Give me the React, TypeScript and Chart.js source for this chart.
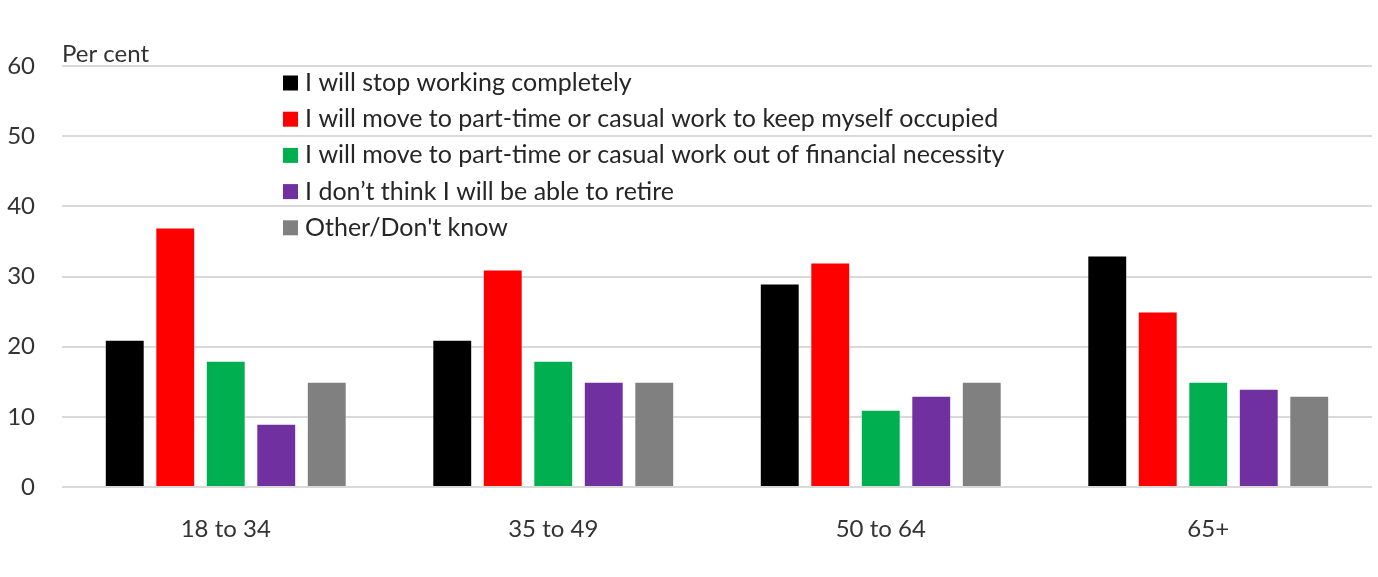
import { useEffect, useRef } from "react"
import { Chart, registerables } from "chart.js"

Chart.register(...registerables)

const ageGroups = ["18 to 34", "35 to 49", "50 to 64", "65+"]

const seriesNames = [
  "I will stop working completely",
  "I will move to part-time or casual work to keep myself occupied",
  "I will move to part-time or casual work out of financial necessity",
  "I don\u2019t think I will be able to retire",
  "Other/Don't know",
]

const stopCompletely = [21, 21, 29, 33]
const partTimeOccupied = [37, 31, 32, 25]
const partTimeNecessity = [18, 18, 11, 15]
const unableToRetire = [9, 15, 13, 14]
const otherDontKnow = [15, 15, 15, 13]

const seriesColors = ["#000000", "#FF0000", "#00B050", "#7030A0", "#808080"]

const FONT = "Lato"
const TEXT = "#333333"

// legend + "Per cent" label drawn on top of the plot
const overlayPlugin = {
  id: "overlay",
  afterDraw(chart: Chart) {
    const ctx = chart.ctx
    const area = chart.chartArea
    ctx.save()
    ctx.fillStyle = TEXT
    ctx.font = `24px ${FONT}`
    ctx.textBaseline = "alphabetic"
    ctx.textAlign = "left"
    ctx.fillText("Per cent", area.left, area.top - 4)

    const x0 = 283
    const y0 = 83
    const step = 36.2
    chart.data.datasets.forEach((ds, i) => {
      const cy = y0 + i * step
      ctx.fillStyle = ds.backgroundColor as string
      ctx.fillRect(x0, cy - 7.5, 15, 15)
      ctx.fillStyle = "#262626"
      ctx.textBaseline = "middle"
      ctx.font = `25px ${FONT}`
      ctx.fillText(ds.label as string, x0 + 22, cy)
    })
    ctx.restore()
  },
}

export default function App() {
  const canvasRef = useRef<HTMLCanvasElement>(null)
  const chartRef = useRef<Chart | null>(null)

  useEffect(() => {
    document.body.style.margin = "0"
    if (!canvasRef.current) return
    if (chartRef.current) chartRef.current.destroy()

    const values = [stopCompletely, partTimeOccupied, partTimeNecessity, unableToRetire, otherDontKnow]

    chartRef.current = new Chart(canvasRef.current, {
      type: "bar",
      data: {
        labels: ageGroups,
        datasets: values.map((data, i) => ({
          label: seriesNames[i],
          data,
          backgroundColor: seriesColors[i],
          borderColor: "rgba(255,255,255,0.35)",
          borderWidth: 1,
          categoryPercentage: 0.771,
          barPercentage: 0.79,
        })),
      },
      options: {
        animation: false,
        responsive: true,
        maintainAspectRatio: false,
        layout: { padding: { top: 66, right: 6, bottom: 0, left: 0 } },
        plugins: {
          legend: { display: false },
          tooltip: { enabled: false },
        },
        scales: {
          x: {
            grid: { display: false },
            border: { display: false },
            ticks: {
              color: TEXT,
              font: { family: FONT, size: 24 },
              padding: 20,
            },
            afterFit(scale) {
              scale.height = 90
            },
          },
          y: {
            min: 0,
            max: 60,
            ticks: {
              stepSize: 10,
              color: TEXT,
              font: { family: FONT, size: 24 },
              padding: 27,
            },
            grid: {
              color: "#d9d9d9",
              lineWidth: 2,
              drawTicks: false,
            },
            border: { display: false },
            afterFit(scale) {
              scale.width = 62
            },
          },
        },
      },
      plugins: [overlayPlugin],
    })

    return () => {
      if (chartRef.current) {
        chartRef.current.destroy()
        chartRef.current = null
      }
    }
  }, [])

  return (
    <div style={{ width: 1378, height: 577, background: "#ffffff" }}>
      <canvas ref={canvasRef}></canvas>
    </div>
  )
}
